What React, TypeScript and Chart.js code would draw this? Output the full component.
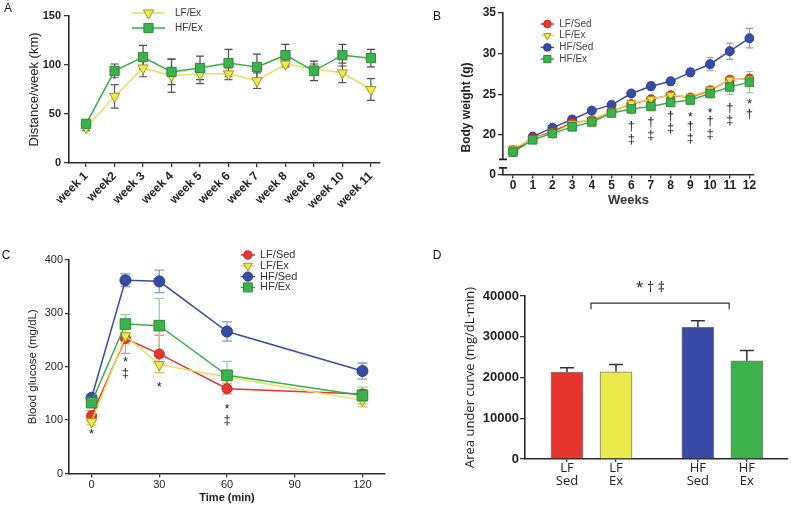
import React, { useEffect, useRef } from "react";
import { Chart, registerables } from "chart.js";

Chart.register(...registerables);

const ARIAL = "Arial, 'Liberation Sans', Helvetica, sans-serif";
const OPEN = "'Open Sans', 'Noto Sans', Arial, sans-serif";

// ---------- Panel A: distance per week ----------
const weeksA = ["week 1", "week2", "week 3", "week 4", "week 5", "week 6", "week 7", "week 8", "week 9", "week 10", "week 11"];
const distLFEx = [36, 68, 97, 89, 91, 91, 84, 101, 96, 92, 75];
const distLFExErr = [3, 12, 9, 17, 10, 6, 8, 3, 5, 10, 11];
const distHFEx = [40, 94, 108, 93, 97, 102, 98, 110, 94, 110, 107];
const distHFExErr = [3, 7, 12, 13, 12, 14, 13, 11, 10, 11, 9];

// ---------- Panel B: body weight ----------
const weeksB = [0, 1, 2, 3, 4, 5, 6, 7, 8, 9, 10, 11, 12];
const bwLFSed = [18.1, 19.6, 20.4, 21.5, 21.8, 22.9, 23.8, 24.4, 24.9, 24.6, 25.5, 26.8, 26.9];
const bwLFSedErr = [0.3, 0.4, 0.3, 0.3, 0.3, 0.3, 0.3, 0.3, 0.3, 0.3, 0.3, 0.4, 0.5];
const bwLFEx = [18.3, 19.6, 20.2, 21.4, 21.9, 22.9, 23.9, 24.4, 24.9, 24.7, 25.6, 26.8, 26.9];
const bwLFExErr = [0.4, 0.3, 0.3, 0.3, 0.3, 0.3, 0.3, 0.3, 0.3, 0.3, 0.3, 0.3, 0.4];
const bwHFSed = [17.9, 19.8, 20.9, 21.9, 23.0, 23.7, 25.1, 26.0, 26.6, 27.7, 28.7, 30.3, 31.9];
const bwHFSedErr = [0.2, 0.2, 0.2, 0.2, 0.2, 0.2, 0.3, 0.5, 0.5, 0.5, 0.8, 1.0, 1.2];
const bwHFEx = [17.9, 19.4, 20.2, 21.0, 21.6, 22.7, 23.2, 23.5, 24.0, 24.3, 25.1, 25.9, 26.5];
const bwHFExErr = [0.3, 0.3, 0.3, 0.3, 0.3, 0.3, 0.3, 0.3, 0.4, 0.5, 0.5, 0.9, 1.3];
const bTickValues = [15.14, 20, 25, 30, 35];
const bTickLabels = ["0", "20", "25", "30", "35"];
const bBreak = [17.0, 15.95];
const bMarkX = [6, 6, 7, 7, 8, 8, 9, 9, 9, 10, 10, 10, 11, 11, 12, 12];
const bMarkY = [21.02, 19.51, 21.51, 20.0, 22.34, 20.82, 22.58, 21.11, 19.59, 22.99, 21.64, 20.09, 23.28, 21.76, 24.09, 22.55];
const bMarkT = ["†", "‡", "†", "‡", "†", "‡", "*", "†", "‡", "*", "†", "‡", "†", "‡", "*", "†"];

// ---------- Panel C: glucose tolerance ----------
const timesC = [0, 15, 30, 60, 120];
const gLFSed = [108, 253, 224, 159, 149];
const gLFSedErr = [10, 28, 35, 10, 8];
const gLFEx = [97, 258, 204, 181, 137];
const gLFExErr = [6, 15, 15, 12, 12];
const gHFSed = [142, 362, 360, 266, 192];
const gHFSedErr = [5, 12, 21, 18, 15];
const gHFEx = [133, 280, 277, 184, 146];
const gHFExErr = [10, 18, 51, 26, 16];
const cTicksX = [0, 30, 60, 90, 120];
const cMarkX = [0, 15, 15, 30, 60, 60];
const cMarkY = [78, 213, 188, 166, 125, 100];
const cMarkT = ["*", "*", "‡", "*", "*", "‡"];

// ---------- Panel D: AUC ----------
const dLabels = [["LF", "Sed"], ["LF", "Ex"], ["HF", "Sed"], ["HF", "Ex"]];
const dPos = [0, 1, 2.67, 3.67];
const dAUC = [21300, 21400, 32400, 24100];
const dAUCErr = [1100, 1800, 1500, 2500];
const dBracketX = [0.49, 3.31];
const dBracketY = [38240, 36760];
const dBracketText = "* † ‡";
const dBracketTextPos = [1.7, 41900];

const S: any = {
  lfSed: { label: "LF/Sed", line: "#e4342d", fill: "#e8352d", edge: "#c2261f", err: "#ef8f86", style: "circle" },
  lfEx: { label: "LF/Ex", line: "#e4e05a", fill: "#ecea4c", edge: "#a0961f", err: "#d9cb5e", style: "triangle" },
  hfSed: { label: "HF/Sed", line: "#3a4ba7", fill: "#3a4ba7", edge: "#2b3a8c", err: "#8c97d2", style: "circle" },
  hfEx: { label: "HF/Ex", line: "#3aad4b", fill: "#3db24c", edge: "#2a8a3a", err: "#92d39c", style: "rect" },
};

function lineDs(s: any, xs: number[], ys: number[], errs: number[], r: number, order: number, extra: any = {}) {
  return {
    label: s.label,
    data: xs.map((x, i) => ({ x, y: ys[i] })),
    errors: errs,
    errColor: s.err,
    errCap: 4,
    errWidth: 1.2,
    borderColor: s.line,
    backgroundColor: s.fill,
    pointBackgroundColor: s.fill,
    pointBorderColor: s.edge,
    pointStyle: s.style,
    pointRotation: s.style === "triangle" ? 180 : 0,
    pointRadius: r,
    pointBorderWidth: 1,
    borderWidth: 1.5,
    order,
    ...extra,
  };
}

function drawMark(ctx: any, style: string, x: number, y: number, r: number, rotDeg: number, fill: string, edge: string) {
  ctx.beginPath();
  if (style === "circle") ctx.arc(x, y, r, 0, Math.PI * 2);
  else if (style === "rect") {
    const s = r * Math.SQRT1_2;
    ctx.rect(x - s, y - s, 2 * s, 2 * s);
  } else {
    let rad = (rotDeg * Math.PI) / 180;
    for (let k = 0; k < 3; k++) {
      const px = x + Math.sin(rad) * r;
      const py = y - Math.cos(rad) * r;
      if (k === 0) ctx.moveTo(px, py);
      else ctx.lineTo(px, py);
      rad += (2 * Math.PI) / 3;
    }
    ctx.closePath();
  }
  ctx.fillStyle = fill;
  ctx.fill();
  ctx.lineWidth = 1;
  ctx.strokeStyle = edge;
  ctx.stroke();
}

function errorBarPlugin() {
  return {
    id: "errorBars",
    beforeDatasetsDraw(chart: any) {
      const ctx = chart.ctx;
      chart.data.datasets.forEach((ds: any, di: number) => {
        if (!ds.errors) return;
        const meta = chart.getDatasetMeta(di);
        const ys = chart.scales[meta.yAxisID];
        ctx.save();
        ctx.strokeStyle = ds.errColor;
        ctx.lineWidth = ds.errWidth || 1.2;
        meta.data.forEach((el: any, i: number) => {
          const raw = ds.data[i];
          const v = typeof raw === "number" ? raw : raw.y;
          const e = ds.errors[i];
          if (e == null) return;
          const x = el.x;
          const cap = ds.errCap || 4;
          const yTop = ys.getPixelForValue(v + e);
          const yBot = ds.errUpperOnly ? ys.getPixelForValue(v) : ys.getPixelForValue(v - e);
          ctx.beginPath();
          ctx.moveTo(x, yTop);
          ctx.lineTo(x, yBot);
          ctx.moveTo(x - cap, yTop);
          ctx.lineTo(x + cap, yTop);
          if (!ds.errUpperOnly) {
            ctx.moveTo(x - cap, yBot);
            ctx.lineTo(x + cap, yBot);
          }
          ctx.stroke();
        });
        ctx.restore();
      });
    },
  };
}

function legendPlugin(cfg: any) {
  return {
    id: "lineLegend",
    afterDraw(chart: any) {
      const ctx = chart.ctx;
      cfg.items.forEach((idx: number, row: number) => {
        const ds = chart.data.datasets[idx];
        const y = cfg.y0 + row * cfg.dy;
        ctx.save();
        ctx.strokeStyle = ds.borderColor;
        ctx.lineWidth = ds.borderWidth;
        ctx.beginPath();
        ctx.moveTo(cfg.x0, y);
        ctx.lineTo(cfg.x1, y);
        ctx.stroke();
        drawMark(ctx, ds.pointStyle, (cfg.x0 + cfg.x1) / 2, y, ds.pointRadius * cfg.scale, ds.pointRotation || 0, ds.pointBackgroundColor, ds.pointBorderColor);
        ctx.fillStyle = cfg.color;
        ctx.font = cfg.font;
        ctx.textBaseline = "middle";
        ctx.textAlign = "left";
        ctx.fillText(ds.label, cfg.tx, y);
        ctx.restore();
      });
    },
  };
}

function marksPlugin(xs: number[], ys: number[], ts: string[], font: string) {
  return {
    id: "marks",
    afterDatasetsDraw(chart: any) {
      const ctx = chart.ctx;
      const sx = chart.scales.x;
      const sy = chart.scales.y;
      ctx.save();
      ctx.font = font;
      ctx.fillStyle = "#1a1a1a";
      ctx.textAlign = "center";
      ctx.textBaseline = "middle";
      ts.forEach((t, i) => {
        const dy = t === "*" ? 3 : 0;
        ctx.fillText(t, sx.getPixelForValue(xs[i]), sy.getPixelForValue(ys[i]) + dy);
      });
      ctx.restore();
    },
  };
}

function textsPlugin(items: any[]) {
  return {
    id: "texts",
    afterDraw(chart: any) {
      const ctx = chart.ctx;
      items.forEach((it) => {
        ctx.save();
        ctx.translate(it.x, it.y);
        if (it.rot) ctx.rotate(it.rot);
        ctx.font = it.font;
        ctx.fillStyle = it.color || "#222";
        ctx.textAlign = "center";
        ctx.textBaseline = "middle";
        ctx.fillText(it.text, 0, 0);
        ctx.restore();
      });
    },
  };
}

function axisBreakPlugin(hi: number, lo: number) {
  return {
    id: "axisBreak",
    afterDraw(chart: any) {
      const ctx = chart.ctx;
      const sy = chart.scales.y;
      const x = chart.chartArea.left;
      const y1 = sy.getPixelForValue(hi);
      const y2 = sy.getPixelForValue(lo);
      ctx.save();
      ctx.fillStyle = "#fff";
      ctx.fillRect(x - 3, y1, 6, y2 - y1);
      ctx.strokeStyle = "#222";
      ctx.lineWidth = 1.6;
      ctx.beginPath();
      ctx.moveTo(x - 4, y1);
      ctx.lineTo(x + 4, y1);
      ctx.moveTo(x - 4, y2);
      ctx.lineTo(x + 4, y2);
      ctx.stroke();
      ctx.restore();
    },
  };
}

function bracketPlugin() {
  return {
    id: "bracket",
    afterDraw(chart: any) {
      const ctx = chart.ctx;
      const sx = chart.scales.x;
      const sy = chart.scales.y;
      const xa = sx.getPixelForValue(dBracketX[0]);
      const xb = sx.getPixelForValue(dBracketX[1]);
      const yl = sy.getPixelForValue(dBracketY[0]);
      const ye = sy.getPixelForValue(dBracketY[1]);
      ctx.save();
      ctx.strokeStyle = "#333";
      ctx.lineWidth = 1.2;
      ctx.beginPath();
      ctx.moveTo(xa, ye);
      ctx.lineTo(xa, yl);
      ctx.lineTo(xb, yl);
      ctx.lineTo(xb, ye);
      ctx.stroke();
      ctx.font = `14px ${OPEN}`;
      ctx.fillStyle = "#222";
      ctx.textAlign = "center";
      ctx.textBaseline = "middle";
      ctx.fillText(dBracketText, sx.getPixelForValue(dBracketTextPos[0]), sy.getPixelForValue(dBracketTextPos[1]));
      ctx.restore();
    },
  };
}

const axisGrid = (len: number) => ({ drawOnChartArea: false, drawTicks: true, tickLength: len, color: "#333", lineWidth: 1.3 });
const axisBorder = { display: true, color: "#2a2a2a", width: 1.6 };

function buildA(): any {
  return {
    type: "line",
    data: {
      datasets: [
        lineDs(S.hfEx, weeksA.map((_, i) => i), distHFEx, distHFExErr, 6.5, 0, { errColor: "#4a4a4a" }),
        lineDs(S.lfEx, weeksA.map((_, i) => i), distLFEx, distLFExErr, 6, 1, { errColor: "#555" }),
      ],
    },
    options: {
      animation: false,
      responsive: false,
      layout: { padding: { left: 0, top: 16, right: 20, bottom: 0 } },
      plugins: { legend: { display: false }, tooltip: { enabled: false } },
      scales: {
        x: {
          type: "linear",
          min: -0.6,
          max: 10.32,
          afterBuildTicks: (s: any) => {
            s.ticks = weeksA.map((_, i) => ({ value: i }));
          },
          afterFit: (s: any) => {
            s.height = 87;
          },
          grid: axisGrid(4),
          border: axisBorder,
          ticks: {
            autoSkip: false,
            minRotation: 45,
            maxRotation: 45,
            padding: 2,
            color: "#222",
            font: { family: ARIAL, size: 12, weight: "bold" },
            callback: (v: number) => weeksA[Math.round(v)],
          },
        },
        y: {
          min: 0,
          max: 150,
          afterFit: (s: any) => {
            s.width = 69;
          },
          ticks: { stepSize: 50, padding: 3, color: "#222", font: { family: ARIAL, size: 11, weight: "bold" } },
          grid: axisGrid(5),
          border: axisBorder,
          title: { display: true, text: "Distance/week (km)", color: "#222", font: { family: ARIAL, size: 13 }, padding: { top: 27, bottom: 0 } },
        },
      },
    },
    plugins: [
      errorBarPlugin(),
      legendPlugin({ items: [1, 0], x0: 132, x1: 165, tx: 175, y0: 13, dy: 15, scale: 1, font: `10px ${ARIAL}`, color: "#333" }),
      textsPlugin([{ text: "A", x: 8, y: 9, font: `12px ${ARIAL}`, color: "#111" }]),
    ],
  };
}

function buildB(): any {
  return {
    type: "line",
    data: {
      datasets: [
        lineDs(S.lfSed, weeksB, bwLFSed, bwLFSedErr, 4.5, 2, { errCap: 3.5 }),
        lineDs(S.lfEx, weeksB, bwLFEx, bwLFExErr, 5, 1, { errCap: 3.5 }),
        lineDs(S.hfSed, weeksB, bwHFSed, bwHFSedErr, 4.5, 3, { errCap: 3.5 }),
        lineDs(S.hfEx, weeksB, bwHFEx, bwHFExErr, 6, 0, { errCap: 3.5 }),
      ],
    },
    options: {
      animation: false,
      responsive: false,
      layout: { padding: { left: 0, top: 13, right: 37, bottom: 0 } },
      plugins: { legend: { display: false }, tooltip: { enabled: false } },
      scales: {
        x: {
          type: "linear",
          min: -0.51,
          max: 12.23,
          afterBuildTicks: (s: any) => {
            s.ticks = weeksB.map((v) => ({ value: v }));
          },
          afterFit: (s: any) => {
            s.height = 75.5;
          },
          grid: axisGrid(4),
          border: axisBorder,
          ticks: { autoSkip: false, maxRotation: 0, padding: 0, color: "#222", font: { family: ARIAL, size: 12, weight: "bold" } },
          title: { display: true, text: "Weeks", color: "#333", font: { family: ARIAL, size: 13, weight: "bold" }, padding: { top: 0, bottom: 42.2 } },
        },
        y: {
          min: bTickValues[0],
          max: 35,
          afterBuildTicks: (s: any) => {
            s.ticks = bTickValues.map((v) => ({ value: v }));
          },
          afterFit: (s: any) => {
            s.width = 103;
          },
          ticks: {
            padding: 2,
            color: "#222",
            font: { family: ARIAL, size: 12, weight: "bold" },
            callback: (v: number) => bTickLabels[bTickValues.findIndex((t) => Math.abs(t - v) < 0.01)],
          },
          grid: axisGrid(5),
          border: axisBorder,
        },
      },
    },
    plugins: [
      errorBarPlugin(),
      marksPlugin(bMarkX, bMarkY, bMarkT, `13px ${ARIAL}`),
      axisBreakPlugin(bBreak[0], bBreak[1]),
      legendPlugin({ items: [0, 1, 2, 3], x0: 140.7, x1: 154, tx: 159.3, y0: 24, dy: 11.7, scale: 0.85, font: `10px ${ARIAL}`, color: "#444" }),
      textsPlugin([
        { text: "B", x: 37, y: 17, font: `12px ${ARIAL}`, color: "#111" },
        { text: "Body weight (g)", x: 67, y: 107.5, rot: -Math.PI / 2, font: `bold 12px ${ARIAL}`, color: "#222" },
      ]),
    ],
  };
}

function buildC(): any {
  const mk = (s: any, ys: number[], errs: number[], r: number, order: number) =>
    lineDs(s, timesC, ys, errs, r, order, { errCap: 5, errWidth: 1.3 });
  return {
    type: "line",
    data: {
      datasets: [
        mk(S.lfSed, gLFSed, gLFSedErr, 5, 2),
        mk(S.lfEx, gLFEx, gLFExErr, 6, 1),
        mk(S.hfSed, gHFSed, gHFSedErr, 5.5, 3),
        mk(S.hfEx, gHFEx, gHFExErr, 7.5, 0),
      ],
    },
    options: {
      animation: false,
      responsive: false,
      layout: { padding: { left: 0, top: 10, right: 15, bottom: 0 } },
      plugins: { legend: { display: false }, tooltip: { enabled: false } },
      scales: {
        x: {
          type: "linear",
          min: -10,
          max: 130,
          afterBuildTicks: (s: any) => {
            s.ticks = cTicksX.map((v) => ({ value: v }));
          },
          afterFit: (s: any) => {
            s.height = 33.5;
          },
          grid: axisGrid(4),
          border: axisBorder,
          ticks: { autoSkip: false, maxRotation: 0, padding: 1, color: "#222", font: { family: ARIAL, size: 11 } },
          title: { display: true, text: "Time (min)", color: "#222", font: { family: ARIAL, size: 11, weight: "bold" }, padding: { top: 0, bottom: 2.4 } },
        },
        y: {
          min: 0,
          max: 400,
          afterFit: (s: any) => {
            s.width = 69;
          },
          ticks: { stepSize: 100, padding: 2, color: "#222", font: { family: ARIAL, size: 11 } },
          grid: axisGrid(4),
          border: axisBorder,
          title: { display: true, text: "Blood glucose (mg/dL)", color: "#222", font: { family: ARIAL, size: 11.5 }, padding: { top: 26, bottom: 0 } },
        },
      },
    },
    plugins: [
      errorBarPlugin(),
      marksPlugin(cMarkX, cMarkY, cMarkT, `13px ${ARIAL}`),
      legendPlugin({ items: [0, 1, 2, 3], x0: 240.7, x1: 255, tx: 260, y0: 5, dy: 10.8, scale: 0.85, font: `11px ${ARIAL}`, color: "#333" }),
      textsPlugin([{ text: "C", x: 6, y: 6, font: `12px ${ARIAL}`, color: "#111" }]),
    ],
  };
}

function buildD(): any {
  return {
    type: "bar",
    data: {
      datasets: [
        {
          label: "AUC",
          data: dPos.map((x, i) => ({ x, y: dAUC[i] })),
          backgroundColor: [S.lfSed.fill, S.lfEx.fill, S.hfSed.fill, S.hfEx.fill],
          borderColor: "rgba(80,80,80,0.75)",
          borderWidth: 1,
          barThickness: 32,
          errors: dAUCErr,
          errColor: "#333",
          errCap: 7,
          errWidth: 1.5,
          errUpperOnly: true,
        },
      ],
    },
    options: {
      animation: false,
      responsive: false,
      layout: { padding: { left: 0, top: 46, right: 3, bottom: 0 } },
      plugins: { legend: { display: false }, tooltip: { enabled: false } },
      scales: {
        x: {
          type: "linear",
          min: -0.857,
          max: 4.51,
          offset: false,
          afterBuildTicks: (s: any) => {
            s.ticks = dPos.map((v) => ({ value: v }));
          },
          afterFit: (s: any) => {
            s.height = 48;
          },
          grid: { ...axisGrid(3), offset: false },
          border: axisBorder,
          ticks: {
            autoSkip: false,
            maxRotation: 0,
            padding: -1,
            color: "#222",
            font: { family: OPEN, size: 13, lineHeight: 1.05 },
            callback: (v: number) => dLabels[dPos.findIndex((p) => Math.abs(p - v) < 0.01)],
          },
        },
        y: {
          min: 0,
          max: 40000,
          afterFit: (s: any) => {
            s.width = 125;
          },
          ticks: {
            stepSize: 10000,
            padding: 1,
            color: "#222",
            font: { family: ARIAL, size: 13, weight: "bold" },
            callback: (v: number) => String(v),
          },
          grid: axisGrid(5),
          border: axisBorder,
          title: { display: true, text: "Area under curve (mg/dL·min)", color: "#222", font: { family: OPEN, size: 13 }, padding: { top: 62, bottom: 0 } },
        },
      },
    },
    plugins: [errorBarPlugin(), bracketPlugin(), textsPlugin([{ text: "D", x: 37, y: 6, font: `12px ${ARIAL}`, color: "#111" }])],
  };
}

function Panel({ left, top, width, height, build }: any) {
  const ref = useRef<HTMLCanvasElement>(null);
  useEffect(() => {
    const chart = new Chart(ref.current as HTMLCanvasElement, build());
    return () => chart.destroy();
  }, []);
  return (
    <canvas
      ref={ref}
      width={width}
      height={height}
      style={{ position: "absolute", left, top, width, height, display: "block" }}
    />
  );
}

export default function App() {
  return (
    <div style={{ position: "absolute", left: 0, top: 0, width: 791, height: 507, background: "#fff", overflow: "hidden" }}>
      <Panel left={0} top={0} width={400} height={250} build={buildA} />
      <Panel left={400} top={0} width={391} height={250} build={buildB} />
      <Panel left={0} top={250} width={400} height={257} build={buildC} />
      <Panel left={400} top={250} width={391} height={257} build={buildD} />
    </div>
  );
}
